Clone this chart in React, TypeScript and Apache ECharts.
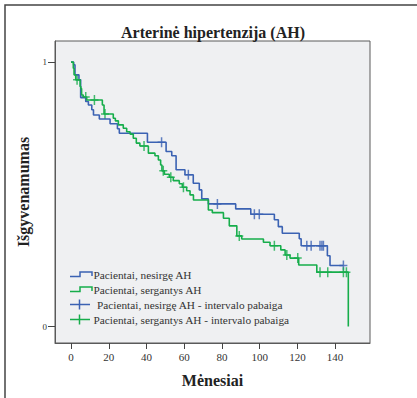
import React, { useEffect, useRef } from "react";
import * as echarts from "echarts";

const chartTitle = "Arterinė hipertenzija (AH)";
const xAxisTitle = "Mėnesiai";
const yAxisTitle = "Išgyvenamumas";
const xTickValues = [0, 20, 40, 60, 80, 100, 120, 140];
const yTickValues = [0, 1];
const legendLabels = [
  "Pacientai, nesirgę AH",
  "Pacientai, sergantys AH",
  " Pacientai, nesirgę AH - intervalo pabaiga",
  "Pacientai, sergantys AH - intervalo pabaiga",
];

// Blue group (nesirgę AH): event times and survival after each event
const blueEventTimes = [0, 1.4, 2.1, 4.2, 5.1, 7.8, 9.2, 11, 11.9, 15, 20.7, 24.6, 25.6, 40.5, 50.4, 53.4, 55.7, 60.4, 64.8, 68, 69.3, 72.8, 87.3, 95.3, 107.8, 109.9, 112, 121, 122, 135.9, 137.3, 144.4];
const blueEventSurvival = [1, 0.99, 0.952, 0.933, 0.866, 0.851, 0.838, 0.82, 0.8, 0.785, 0.767, 0.748, 0.731, 0.697, 0.662, 0.646, 0.593, 0.574, 0.542, 0.517, 0.483, 0.464, 0.445, 0.425, 0.404, 0.378, 0.353, 0.332, 0.306, 0.268, 0.231, 0.231];
const blueCensorTimes = [48, 62.2, 77.6, 97.2, 99.8, 125, 127.3, 132, 133, 133.8, 144.4];
const blueCensorSurvival = [0.697, 0.574, 0.464, 0.425, 0.425, 0.306, 0.306, 0.306, 0.306, 0.306, 0.231];

// Green group (sergantys AH)
const greenEventTimes = [0, 1.2, 1.6, 2.5, 4.8, 5.2, 5.6, 6.5, 8.3, 16.6, 17.5, 22.4, 23.5, 25.1, 27.7, 29.5, 31.3, 33, 34.6, 36.5, 41, 44.5, 46.3, 47.5, 48.2, 49.5, 52.1, 54.2, 57.4, 59, 61.3, 63.1, 64.9, 72.8, 74.9, 80.8, 83.9, 87.9, 90.5, 102, 105.5, 111.2, 113.5, 116.1, 120.7, 130.3, 147, 147];
const greenEventSurvival = [1, 0.977, 0.952, 0.933, 0.908, 0.9, 0.876, 0.868, 0.857, 0.838, 0.804, 0.788, 0.778, 0.763, 0.75, 0.737, 0.728, 0.712, 0.694, 0.683, 0.656, 0.646, 0.63, 0.611, 0.589, 0.576, 0.565, 0.552, 0.54, 0.527, 0.514, 0.498, 0.479, 0.441, 0.431, 0.41, 0.381, 0.343, 0.331, 0.319, 0.306, 0.29, 0.271, 0.259, 0.233, 0.206, 0.206, 0];
const greenCensorTimes = [3.2, 7.8, 12.4, 18, 38.7, 48.9, 52.9, 59.6, 89.2, 107.8, 114.4, 120.2, 132, 136.1, 144.4, 146];
const greenCensorSurvival = [0.933, 0.868, 0.857, 0.804, 0.683, 0.589, 0.565, 0.527, 0.343, 0.306, 0.271, 0.259, 0.206, 0.206, 0.206, 0.206];

const BLUE = "#3b62b3";
const GREEN = "#16ad4b";
const SERIF = "'Liberation Serif', 'DejaVu Serif', serif";
const PLUS = "path://M0,4.25 H8 V5.75 H0 Z M3.25,0 H4.75 V10 H3.25 Z";

const zip = (a: number[], b: number[]) => a.map((v, i) => [v, b[i]]);

export default function App() {
  const ref = useRef<HTMLDivElement>(null);
  useEffect(() => {
    if (!ref.current) return;
    const chart = echarts.init(ref.current, undefined, { renderer: "svg" });
    const legendRowsY = [275, 290, 304.5, 319.5];
    const legendGraphics: any[] = [];
    legendRowsY.forEach((y, i) => {
      const color = i % 2 === 0 ? BLUE : GREEN;
      if (i < 2) {
        legendGraphics.push({
          type: "polyline",
          shape: { points: [[70, y + 1.5], [80, y + 1.5], [80, y - 3], [92, y - 3], [92, y + 1]] },
          style: { stroke: color, lineWidth: 1.5, fill: "none" },
        });
      } else {
        legendGraphics.push({ type: "line", shape: { x1: 70, y1: y, x2: 90, y2: y }, style: { stroke: color, lineWidth: 1.5 } });
        legendGraphics.push({ type: "line", shape: { x1: 79.5, y1: y - 5, x2: 79.5, y2: y + 5 }, style: { stroke: color, lineWidth: 1.5 } });
      }
      legendGraphics.push({
        type: "text",
        x: i === 2 ? 97 : 93.5,
        y,
        style: {
          text: legendLabels[i].trim(),
          font: `11.3px ${SERIF}`,
          fill: "#333",
          textVerticalAlign: "middle",
        },
      });
    });

    chart.setOption({
      animation: false,
      backgroundColor: "#ffffff",
      title: {
        text: chartTitle,
        left: 213,
        top: 24,
        padding: 0,
        textAlign: "center",
        textStyle: { fontFamily: SERIF, fontSize: 16, fontWeight: "bold", color: "#222" },
      },
      grid: {
        left: 55,
        top: 41,
        width: 315,
        height: 302,
        show: true,
        backgroundColor: "#eff0f2",
        borderColor: "#5a5a5a",
        borderWidth: 1,
      },
      xAxis: {
        type: "value",
        min: -8.5,
        max: 158.5,
        name: xAxisTitle,
        nameLocation: "middle",
        nameGap: 29,
        nameTextStyle: { fontFamily: SERIF, fontSize: 16, fontWeight: "bold", color: "#222" },
        axisLine: { show: true, onZero: false, lineStyle: { color: "#5a5a5a" } },
        axisTick: { show: true, customValues: xTickValues, length: 6, lineStyle: { color: "#444" } },
        axisLabel: { customValues: xTickValues, fontFamily: SERIF, fontSize: 11, color: "#333", margin: 8 },
        splitLine: { show: false },
      },
      yAxis: {
        type: "value",
        min: -0.062,
        max: 1.08,
        name: yAxisTitle,
        nameLocation: "middle",
        nameGap: 13,
        nameTextStyle: { fontFamily: SERIF, fontSize: 16, fontWeight: "bold", color: "#222" },
        axisLine: { show: true, onZero: false, lineStyle: { color: "#5a5a5a" } },
        axisTick: { show: true, customValues: yTickValues, length: 7, lineStyle: { color: "#444" } },
        axisLabel: { customValues: yTickValues, fontFamily: SERIF, fontSize: 9, color: "#333", margin: 8 },
        splitLine: { show: false },
      },
      graphic: [
        {
          type: "rect",
          shape: { x: 5, y: 5, width: 700, height: 700 },
          style: { fill: "none", stroke: "#444", lineWidth: 1.5 },
          silent: true,
        },
        ...legendGraphics,
      ],
      series: [
        {
          name: legendLabels[0],
          type: "line",
          step: "end",
          symbol: "none",
          data: zip(blueEventTimes, blueEventSurvival),
          lineStyle: { color: BLUE, width: 1.6 },
        },
        {
          name: legendLabels[1],
          type: "line",
          step: "end",
          symbol: "none",
          data: zip(greenEventTimes, greenEventSurvival),
          lineStyle: { color: GREEN, width: 1.6 },
        },
        {
          name: legendLabels[2],
          type: "scatter",
          symbol: PLUS,
          symbolSize: [8, 10],
          data: zip(blueCensorTimes, blueCensorSurvival),
          itemStyle: { color: BLUE },
        },
        {
          name: legendLabels[3],
          type: "scatter",
          symbol: PLUS,
          symbolSize: [8, 10],
          data: zip(greenCensorTimes, greenCensorSurvival),
          itemStyle: { color: GREEN },
        },
      ],
    });
    return () => chart.dispose();
  }, []);
  return (
    <div
      ref={ref}
      style={{ position: "absolute", left: 0, top: 0, width: 417, height: 398, background: "#fff" }}
    />
  );
}
